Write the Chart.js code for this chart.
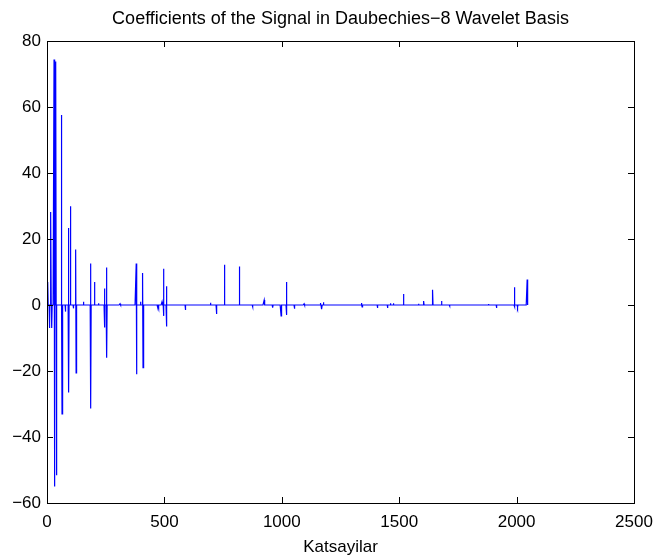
<!DOCTYPE html>
<html>
<head>
<meta charset="utf-8">
<script src="https://cdn.jsdelivr.net/npm/chart.js@4"></script>
<style>
  body { margin: 0; background: #fff; }
  #wrap { width: 659px; height: 556px; }
</style>
</head>
<body>
<div id="wrap"><canvas id="coefChart" width="659" height="556"></canvas></div>
<script>
// number of wavelet coefficients
const coefCount = 2048;

// nonzero coefficients (index, value)
const spikeIdx = [4, 11, 17, 21, 30, 33, 38, 41, 61, 64, 78, 92, 93, 101, 112, 123, 124, 126,
    155, 186, 187, 203, 220, 245, 246, 254, 255, 311, 380, 381, 398, 408, 409, 470, 476, 490,
    496, 497, 509, 510, 590, 697, 722, 756, 820, 876, 925, 962, 997, 1020, 1021, 1055, 1095,
    1165, 1171, 1178, 1340, 1342, 1407, 1450, 1462, 1475, 1518, 1582, 1605, 1643, 1681, 1715,
    1880, 1915, 1991, 1992, 2005, 2045];
const spikeVal = [7.0, -7.0, 28.2, -7.0, 74.4, -55.0, 73.8, -51.6, 57.6, -33.0, -2.0, 23.3, -26.5, 29.9, -1.0, 16.8, -20.6, -5.5,
    1.0, 12.6, -31.4, 7.0, 0.5, 5.0, -6.8, 11.4, -16.0, 0.4, 12.6, -21.0, 1.0, 9.7, -19.0, -0.6, -0.8, 1.0,
    11.0, -3.3, 5.7, -6.5, -1.5, 0.7, -2.7, 12.2, 11.7, -0.5, 1.5, -0.8, -3.3, 7.0, -3.0, -1.1, 0.4,
    0.6, -1.3, 0.8, 0.6, -0.6, -0.9, -0.9, 0.5, 0.5, 3.3, 0.4, 1.2, 4.6, 1.2, -0.3,
    0.3, -0.9, 5.4, -0.5, -0.7, 7.75];

// axis ticks
const xTicks = [0, 500, 1000, 1500, 2000, 2500];
const yTicks = [-60, -40, -20, 0, 20, 40, 60, 80];

const chartTitle = 'Coefficients of the Signal in Daubechies\u22128 Wavelet Basis';

// build the series: zero everywhere except the spikes
const coefs = new Array(coefCount).fill(0);
spikeIdx.forEach((k, i) => { coefs[k - 1] = spikeVal[i]; });
const points = coefs.map((v, i) => ({ x: i + 1, y: v }));

const fontFam = '"Liberation Sans", Arial, sans-serif';

// matlab style box with inward ticks, title centred over the axes
const boxPlugin = {
    id: 'boxPlugin',
    afterDatasetsDraw(chart) {
        const { ctx, chartArea: a, scales } = chart;
        const len = 6;
        ctx.save();
        ctx.strokeStyle = '#000';
        ctx.lineWidth = 1;
        ctx.beginPath();
        xTicks.forEach(t => {
            const px = Math.round(scales.x.getPixelForValue(t)) + 0.5;
            ctx.moveTo(px, a.bottom); ctx.lineTo(px, a.bottom - len);
            ctx.moveTo(px, a.top); ctx.lineTo(px, a.top + len);
        });
        yTicks.forEach(t => {
            const py = Math.round(scales.y.getPixelForValue(t)) + 0.5;
            ctx.moveTo(a.left, py); ctx.lineTo(a.left + len, py);
            ctx.moveTo(a.right, py); ctx.lineTo(a.right - len, py);
        });
        ctx.stroke();
        ctx.strokeRect(Math.round(a.left) + 0.5, Math.round(a.top) + 0.5,
            Math.round(a.right - a.left), Math.round(a.bottom - a.top));

        ctx.fillStyle = '#000';
        ctx.font = '18px ' + fontFam;
        ctx.textAlign = 'center';
        ctx.textBaseline = 'middle';
        ctx.fillText(chartTitle, (a.left + a.right) / 2, 19);
        ctx.restore();
    }
};

const chart = new Chart(document.getElementById('coefChart').getContext('2d'), {
    type: 'line',
    data: {
        datasets: [{
            data: points,
            borderColor: '#0000ff',
            borderWidth: 1.2,
            pointRadius: 0,
            tension: 0,
            fill: false
        }]
    },
    options: {
        responsive: false,
        animation: false,
        layout: { padding: { left: 0, right: 25, top: 41, bottom: 0 } },
        plugins: {
            legend: { display: false },
            tooltip: { enabled: false },
            title: { display: false }
        },
        scales: {
            x: {
                type: 'linear',
                min: 0,
                max: 2500,
                afterBuildTicks: s => { s.ticks = xTicks.map(v => ({ value: v })); },
                afterFit: s => { s.height = 53; s.paddingLeft = 0; s.paddingRight = 0; },
                grid: { display: false, drawTicks: false },
                border: { display: false },
                ticks: {
                    color: '#000',
                    padding: 9,
                    maxRotation: 0,
                    font: { family: fontFam, size: 17 },
                    callback: v => String(v)
                },
                title: {
                    display: true,
                    text: 'Katsayilar',
                    color: '#000',
                    font: { family: fontFam, size: 17, lineHeight: 1 },
                    padding: { top: 0, bottom: 0 }
                }
            },
            y: {
                min: -60,
                max: 80,
                afterBuildTicks: s => { s.ticks = yTicks.map(v => ({ value: v })); },
                afterFit: s => { s.width = 47; s.paddingTop = 0; s.paddingBottom = 0; },
                grid: { display: false, drawTicks: false },
                border: { display: false },
                ticks: {
                    color: '#000',
                    padding: 6,
                    font: { family: fontFam, size: 17 },
                    callback: v => String(v).replace('-', '\u2212')
                }
            }
        }
    },
    plugins: [boxPlugin]
});
</script>
</body>
</html>
